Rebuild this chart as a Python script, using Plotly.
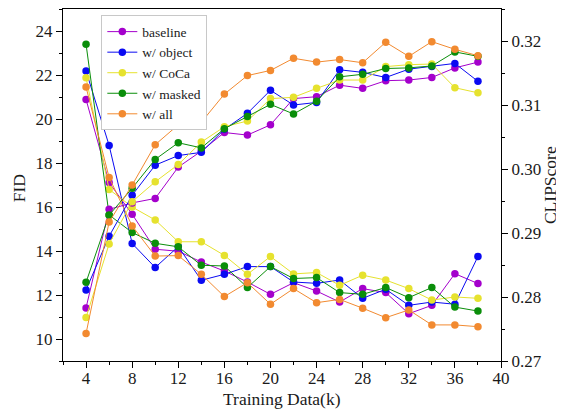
import plotly.graph_objects as go

training_k = [4, 6, 8, 10, 12, 14, 16, 18, 20, 22, 24, 26, 28, 30, 32, 34, 36, 38]

series_names = ["baseline", "w/ object", "w/ CoCa", "w/ masked", "w/ all"]
series_colors = ["#A400CC", "#0A0AF2", "#E6E22E", "#0A8E0A", "#F28A30"]

fid_baseline = [20.89, 17.11, 15.67, 14.08, 13.99, 13.50, 13.09, 12.59, 12.03, 12.56, 12.18, 11.68, 12.29, 12.11, 11.15, 11.53, 12.97, 12.52]
fid_object   = [22.18, 18.80, 14.34, 13.25, 14.20, 12.67, 12.94, 13.29, 13.29, 12.59, 12.53, 12.68, 11.85, 12.26, 11.53, 11.68, 11.58, 13.75]
fid_coca     = [21.88, 16.80, 16.00, 15.41, 14.42, 14.42, 13.80, 12.94, 13.75, 12.96, 13.02, 12.44, 12.90, 12.68, 12.29, 11.77, 11.91, 11.85]
fid_masked   = [23.40, 15.64, 14.84, 14.35, 14.19, 13.35, 13.32, 12.34, 13.29, 12.75, 12.79, 12.11, 12.03, 12.34, 11.88, 12.34, 11.45, 11.27]
fid_all      = [21.45, 17.34, 15.14, 13.77, 13.79, 12.94, 11.93, 12.56, 11.58, 12.29, 11.65, 11.80, 11.40, 10.97, 11.32, 10.64, 10.64, 10.56]

clip_baseline = [0.2783, 0.2937, 0.2947, 0.2954, 0.3003, 0.3028, 0.3057, 0.3053, 0.3069, 0.3110, 0.3113, 0.3131, 0.3126, 0.3138, 0.3139, 0.3143, 0.3158, 0.3167]
clip_object   = [0.2811, 0.2895, 0.2959, 0.3006, 0.3021, 0.3026, 0.3062, 0.3087, 0.3123, 0.3100, 0.3104, 0.3155, 0.3151, 0.3143, 0.3156, 0.3160, 0.3165, 0.3137]
clip_coca     = [0.2768, 0.2883, 0.2949, 0.2980, 0.3007, 0.3042, 0.3066, 0.3075, 0.3110, 0.3112, 0.3126, 0.3139, 0.3139, 0.3160, 0.3163, 0.3164, 0.3127, 0.3119]
clip_masked   = [0.2823, 0.2928, 0.2970, 0.3015, 0.3041, 0.3033, 0.3063, 0.3082, 0.3101, 0.3086, 0.3106, 0.3144, 0.3148, 0.3157, 0.3158, 0.3161, 0.3183, 0.3176]
clip_all      = [0.2743, 0.2917, 0.2975, 0.3038, 0.3069, 0.3073, 0.3117, 0.3146, 0.3154, 0.3173, 0.3167, 0.3171, 0.3166, 0.3198, 0.3176, 0.3199, 0.3187, 0.3177]

fid_series = [fid_baseline, fid_object, fid_coca, fid_masked, fid_all]
clip_series = [clip_baseline, clip_object, clip_coca, clip_masked, clip_all]

x_title = "Training Data(k)"
y_left_title = "FID"
y_right_title = "CLIPScore"

FONT = "Liberation Serif, Times New Roman, serif"
TXT = "#1a1a1a"

fig = go.Figure()
for name, color, fid in zip(series_names, series_colors, fid_series):
    fig.add_trace(go.Scatter(
        x=training_k, y=fid, name=name, mode="lines+markers",
        line=dict(color=color, width=1), marker=dict(color=color, size=7.5),
        legendgroup=name, yaxis="y"))
for name, color, clip in zip(series_names, series_colors, clip_series):
    fig.add_trace(go.Scatter(
        x=training_k, y=clip, name=name, mode="lines+markers",
        line=dict(color=color, width=1), marker=dict(color=color, size=7.5),
        legendgroup=name, showlegend=False, yaxis="y2"))

axis_common = dict(showgrid=False, zeroline=False, showline=True, linecolor="black",
                   linewidth=1.3, ticks="outside", ticklen=6, tickwidth=1.2, tickcolor="black",
                   automargin=False,
                   tickfont=dict(family=FONT, size=17, color=TXT))

# The page body has an 8px default margin, so the canvas is sized to end at the window edge.
fig.update_layout(
    template="none",
    width=556, height=403,
    margin=dict(l=55, r=63, t=1, b=50),
    paper_bgcolor="white", plot_bgcolor="white",
    font=dict(family=FONT, color=TXT),
    xaxis=dict(range=[2, 40], tickmode="linear", tick0=4, dtick=4, mirror=True,
               ticklabelstandoff=-5,
               minor=dict(tickmode="linear", tick0=2, dtick=2, ticks="outside", ticklen=3, tickcolor="black"),
               **axis_common),
    yaxis=dict(range=[9, 25], tickmode="linear", tick0=10, dtick=2,
               minor=dict(tickmode="linear", tick0=9, dtick=1, ticks="outside", ticklen=3, tickcolor="black"),
               **axis_common),
    yaxis2=dict(range=[0.27, 0.325], overlaying="y", side="right", tickmode="linear",
                tick0=0.27, dtick=0.01, tickformat=".2f",
                minor=dict(tickmode="linear", tick0=0.265, dtick=0.005, ticks="outside", ticklen=3, tickcolor="black"),
                **axis_common),
    legend=dict(x=0.0875, y=0.982, xanchor="left", yanchor="top",
                bgcolor="white", bordercolor="#C8C8C8", borderwidth=1,
                font=dict(family=FONT, size=13.5, color=TXT),
                tracegroupgap=0, itemwidth=30),
    showlegend=True,
    annotations=[
        dict(text=x_title, xref="paper", yref="paper", x=0.5, y=-0.108, xanchor="center", yanchor="middle",
             showarrow=False, font=dict(family=FONT, size=17.5, color=TXT)),
        dict(text=y_left_title, xref="paper", yref="paper", x=-0.101, y=0.49, xanchor="center", yanchor="middle",
             textangle=-90, showarrow=False, font=dict(family=FONT, size=17.5, color=TXT)),
        dict(text=y_right_title, xref="paper", yref="paper", x=1.112, y=0.5, xanchor="center", yanchor="middle",
             textangle=-90, showarrow=False, font=dict(family=FONT, size=17.5, color=TXT)),
    ],
)

fig.write_html("out.html")
